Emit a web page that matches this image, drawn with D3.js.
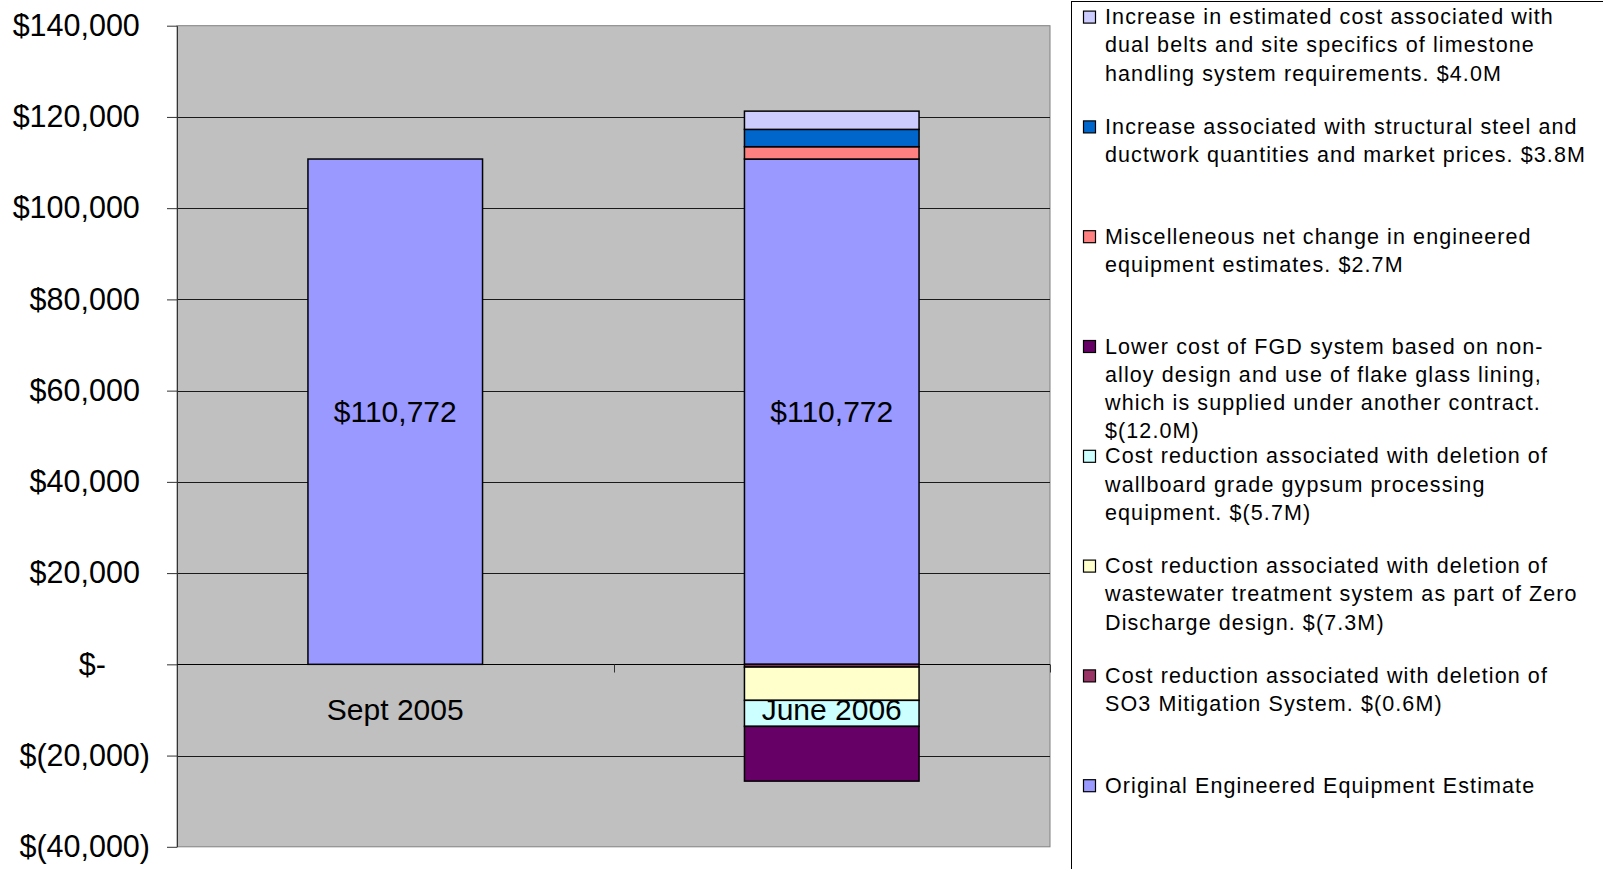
<!DOCTYPE html>
<html>
<head>
<meta charset="utf-8">
<script src="https://cdn.jsdelivr.net/npm/d3@7/dist/d3.min.js"></script>
<style>
  html, body { margin: 0; padding: 0; background: #fff; }
  svg { display: block; font-family: "Liberation Sans", Arial, sans-serif; }
</style>
</head>
<body>
<svg id="chart" width="1603" height="869"></svg>
<script>
// Engineered equipment estimate, thousands of dollars
const categories = ["Sept 2005", "June 2006"];

const originalEstimate = [110772, 110772];
const so3Mitigation    = [0, -600];
const wastewater       = [0, -7300];
const gypsum           = [0, -5700];
const fgdSystem        = [0, -12000];
const miscChange       = [0, 2700];
const structuralSteel  = [0, 3800];
const limestone        = [0, 4000];

const yTickValues = [-40000, -20000, 0, 20000, 40000, 60000, 80000, 100000, 120000, 140000];

// Series in stacking order (legend lists them in reverse)
const seriesKeys = ["original", "so3", "wastewater", "gypsum", "fgd", "misc", "steel", "limestone"];
const seriesValues = [originalEstimate, so3Mitigation, wastewater, gypsum, fgdSystem, miscChange, structuralSteel, limestone];
const seriesColors = ["#9999FF", "#993366", "#FFFFCC", "#CCFFFF", "#660066", "#FF8080", "#0066CC", "#CCCCFF"];
const seriesNames = [
  ["Original Engineered Equipment Estimate"],
  ["Cost reduction associated with deletion of", "SO3 Mitigation System. $(0.6M)"],
  ["Cost reduction associated with deletion of", "wastewater treatment system as part of Zero", "Discharge design. $(7.3M)"],
  ["Cost reduction associated with deletion of", "wallboard grade gypsum processing", "equipment. $(5.7M)"],
  ["Lower cost of FGD system based on non-", "alloy design and use of flake glass lining,", "which is supplied under another contract.", "$(12.0M)"],
  ["Miscelleneous net change in engineered", "equipment estimates. $2.7M"],
  ["Increase associated with structural steel and", "ductwork quantities and market prices. $3.8M"],
  ["Increase in estimated cost associated with", "dual belts and site specifics of limestone", "handling system requirements. $4.0M"]
];

const svg = d3.select("#chart");

const plot = { left: 177, right: 1050, top: 25.7, bottom: 846.8 };

const table = categories.map((c, i) => {
  const row = { category: c };
  seriesKeys.forEach((k, s) => { row[k] = seriesValues[s][i]; });
  return row;
});

const stacked = d3.stack()
  .keys(seriesKeys)
  .offset(d3.stackOffsetDiverging)(table);

const x = d3.scaleBand()
  .domain(categories)
  .range([plot.left, plot.right])
  .paddingInner(0.6)
  .paddingOuter(0.3);

const y = d3.scaleLinear()
  .domain([-40000, 140000])
  .range([plot.bottom, plot.top]);

// Plot area
svg.append("rect")
  .attr("x", plot.left).attr("y", plot.top)
  .attr("width", plot.right - plot.left).attr("height", plot.bottom - plot.top)
  .attr("fill", "#C0C0C0")
  .attr("stroke", "#808080").attr("stroke-width", 1);

// Horizontal gridlines
svg.append("g")
  .selectAll("line")
  .data(yTickValues.filter(v => v > -40000 && v < 140000 && v !== 0))
  .join("line")
  .attr("x1", plot.left).attr("x2", plot.right)
  .attr("y1", d => Math.round(y(d)) + 0.5).attr("y2", d => Math.round(y(d)) + 0.5)
  .attr("stroke", "#1a1a1a").attr("stroke-width", 1);

// Stacked bars
const layers = svg.append("g")
  .selectAll("g")
  .data(stacked)
  .join("g")
  .attr("fill", (d, i) => seriesColors[i]);

layers.selectAll("rect")
  .data(d => d.filter(p => p[1] !== p[0]))
  .join("rect")
  .attr("x", d => x(d.data.category))
  .attr("width", x.bandwidth())
  .attr("y", d => y(Math.max(d[0], d[1])))
  .attr("height", d => Math.abs(y(d[0]) - y(d[1])))
  .attr("stroke", "#000")
  .attr("stroke-width", 1.5);

// Y axis
const fmtAcct = v => {
  if (v === 0) return "$-";
  const s = d3.format(",")(Math.abs(v));
  return v < 0 ? "$(" + s + ")" : "$" + s;
};

const yAxis = svg.append("g")
  .attr("transform", `translate(${plot.left},0)`)
  .call(d3.axisLeft(y)
    .tickValues(yTickValues)
    .tickSize(10)
    .tickSizeOuter(0)
    .tickPadding(17)
    .tickFormat(fmtAcct));

yAxis.select(".domain").attr("stroke", "#333");
yAxis.selectAll(".tick line").attr("stroke", "#333");
yAxis.selectAll(".tick text")
  .attr("fill", "#000")
  .attr("font-size", "30.5px")
  .attr("font-family", "'Liberation Sans', Arial, sans-serif")
  .attr("dx", d => d > 0 ? "-0.333em" : d === 0 ? "-1.445em" : 0);

// X axis along zero, ticks between categories
const y0 = Math.round(y(0)) + 0.5;
svg.append("line")
  .attr("x1", plot.left).attr("x2", plot.right)
  .attr("y1", y0).attr("y2", y0)
  .attr("stroke", "#000").attr("stroke-width", 1);

const boundaries = d3.range(categories.length + 1).map(i => plot.left + i * x.step());
svg.append("g")
  .selectAll("line")
  .data(boundaries)
  .join("line")
  .attr("x1", d => Math.round(d) + 0.5).attr("x2", d => Math.round(d) + 0.5)
  .attr("y1", y0).attr("y2", y0 + 8)
  .attr("stroke", "#333");

// Value labels on the original estimate
svg.append("g")
  .selectAll("text")
  .data(stacked[0])
  .join("text")
  .attr("x", d => x(d.data.category) + x.bandwidth() / 2)
  .attr("y", d => y((d[0] + d[1]) / 2))
  .attr("dy", "0.35em")
  .attr("text-anchor", "middle")
  .attr("font-size", "30px")
  .attr("fill", "#000")
  .text(d => "$" + d3.format(",")(d.data.original));

// Category labels
svg.append("g")
  .selectAll("text")
  .data(categories)
  .join("text")
  .attr("x", d => x(d) + x.bandwidth() / 2)
  .attr("y", y0 + 45)
  .attr("dy", "0.35em")
  .attr("text-anchor", "middle")
  .attr("font-size", "30px")
  .attr("fill", "#000")
  .text(d => d);

// Legend
const legend = svg.append("g");
legend.append("rect")
  .attr("x", 1071.5).attr("y", 1.5)
  .attr("width", 1521).attr("height", 900)
  .attr("fill", "#fff")
  .attr("stroke", "#000").attr("stroke-width", 1);

const legendOrder = d3.range(seriesKeys.length).reverse();
const entryGap = 109.8, lineGap = 28.3, firstLine = 16.6;

const entries = legend.selectAll("g.entry")
  .data(legendOrder)
  .join("g")
  .attr("class", "entry")
  .attr("transform", (d, i) => `translate(0,${firstLine + i * entryGap})`);

entries.append("rect")
  .attr("x", 1083.5).attr("y", -5.5)
  .attr("width", 12).attr("height", 12)
  .attr("fill", d => seriesColors[d])
  .attr("stroke", "#000").attr("stroke-width", 1.2);

entries.append("text")
  .attr("x", 1105)
  .attr("font-size", "21.5px")
  .attr("letter-spacing", "1.1px")
  .attr("fill", "#000")
  .selectAll("tspan")
  .data(d => seriesNames[d])
  .join("tspan")
  .attr("x", 1105)
  .attr("y", (t, j) => j * lineGap)
  .attr("dy", "0.35em")
  .text(t => t);
</script>
</body>
</html>
